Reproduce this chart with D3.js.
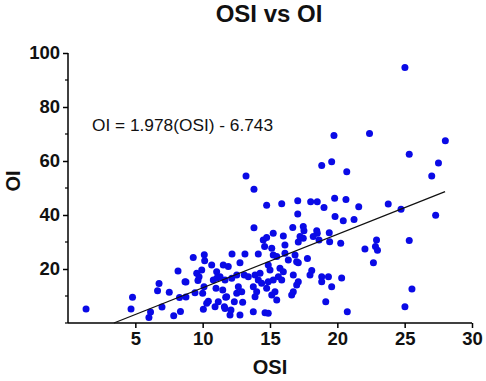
<!DOCTYPE html>
<html>
<head>
<meta charset="utf-8">
<script src="https://cdn.jsdelivr.net/npm/d3@7"></script>
<style>
  html, body { margin: 0; padding: 0; background: #fff; }
  svg { display: block; font-family: "Liberation Sans", Arial, sans-serif; }
</style>
</head>
<body>
<svg id="chart" width="486" height="381"></svg>
<script>
// ---- data ----
const osi = [
  1.34, 4.68, 4.79, 6.13, 6.01, 6.65, 6.76, 6.98, 7.52, 7.85, 8.17, 8.28, 8.35, 8.76, 8.76,
  9.30, 9.43, 9.56, 9.73, 9.65, 9.93, 10.12, 10.05, 10.10, 10.00, 10.15, 10.30, 10.42, 10.67, 10.79,
  10.99, 10.92, 11.04, 11.29, 11.53, 11.61, 11.49, 11.71, 11.90, 12.03, 12.18, 12.10, 12.16, 12.35, 12.53,
  12.77, 12.77, 12.97, 13.14, 13.09, 8.69, 11.06, 11.66, 11.78, 12.53, 11.16, 11.66,
  14.13, 14.50, 14.60, 15.13, 15.24, 15.50, 16.11, 16.11, 16.86, 16.98, 14.87, 15.00, 15.74, 15.99,
  13.39, 13.89, 14.26, 14.13, 14.38, 14.87, 15.62, 15.87, 13.76, 14.01, 14.75, 15.37, 15.13, 16.73,
  16.61, 12.65, 12.90, 13.89, 15.50, 13.76, 14.63, 14.87, 16.36, 17.10, 16.73, 17.10, 16.98, 15.24,
  13.22, 13.81, 14.75, 15.87, 17.06, 17.06, 13.81, 14.75, 15.24, 15.99, 16.69, 17.10, 17.23, 17.47,
  17.52, 18.47, 18.51, 18.21, 18.64, 19.40, 19.43, 20.25, 18.02, 18.51, 19.01, 19.80, 20.64, 21.59,
  19.83, 20.44, 21.24, 23.78, 24.73, 27.30, 18.84, 19.58, 20.70, 19.75, 22.39, 28.02, 25.34, 27.51,
  27.01, 25.02, 17.47,
  22.05, 22.91, 22.83, 22.98, 22.68, 25.34, 17.78, 18.10, 17.97, 18.84, 19.34, 20.32, 18.84, 19.58,
  25.54, 19.14, 25.02, 20.74
];
const oi = [
  5.2, 5.2, 9.5, 4.1, 2.0, 11.9, 14.6, 5.9, 11.4, 2.7, 19.3, 9.4, 4.3, 15.2, 9.6,
  24.3, 11.2, 18.4, 17.1, 15.7, 19.6, 25.3, 5.1, 13.4, 11.0, 23.1, 7.3, 8.1, 21.5, 15.9,
  12.9, 6.0, 19.0, 17.1, 21.5, 6.0, 12.2, 9.5, 20.9, 3.0, 25.6, 4.8, 16.6, 7.9, 17.8,
  22.3, 3.0, 7.7, 25.6, 17.8, 15.3, 16.7, 15.9, 9.7, 11.0, 7.9, 5.4,
  25.6, 30.7, 28.3, 27.7, 25.2, 24.6, 25.8, 28.9, 25.2, 22.7, 21.5, 19.6, 20.3, 19.0,
  17.1, 17.8, 18.4, 15.9, 14.7, 15.3, 17.1, 15.9, 13.4, 11.6, 12.9, 11.6, 10.4, 11.6,
  10.4, 13.4, 11.6, 9.7, 8.5, 4.2, 3.8, 3.6, 23.3, 22.3, 17.8, 15.3, 14.1, 15.9,
  54.4, 49.5, 43.6, 44.2, 45.3, 40.4, 35.3, 31.7, 33.2, 32.2, 35.4, 30.0, 32.0, 35.7,
  34.2, 34.2, 33.2, 32.0, 30.7, 33.4, 30.1, 29.5, 44.9, 44.9, 42.8, 46.2, 45.7, 43.1,
  39.4, 37.9, 38.3, 44.1, 42.1, 39.9, 58.3, 59.7, 56.0, 69.4, 70.2, 67.5, 62.5, 59.3,
  54.4, 94.6, 31.4,
  27.4, 30.7, 28.3, 26.9, 22.3, 30.6, 23.9, 19.4, 17.8, 17.1, 17.1, 16.7, 15.3, 13.4,
  12.6, 7.9, 6.0, 4.2
];
const xTicks = [5, 10, 15, 20, 25, 30];
const yTicks = [20, 40, 60, 80, 100];
const yMinorTicks = [0, 10, 30, 50, 70, 90];
const fitSlope = 1.978;
const fitIntercept = -6.743;
const fitRange = [3.41, 28.0];
const titleText = "OSI vs OI";
const xTitle = "OSI";
const yTitle = "OI";
const equationText = "OI = 1.978(OSI) - 6.743";

// ---- drawing ----
const svg = d3.select("#chart");
const mLeft = 68, mRight = 472, mTop = 53, mBottom = 323;
const x = d3.scaleLinear().domain([0, 30]).range([mLeft, mRight]);
const y = d3.scaleLinear().domain([0, 100]).range([mBottom, mTop]);

// title
svg.append("text").attr("x", 269).attr("y", 22).attr("text-anchor", "middle")
  .attr("font-size", 24).attr("font-weight", "bold").attr("fill", "#111").text(titleText);

// x axis
const xAxis = d3.axisBottom(x).tickValues(xTicks).tickSize(5).tickPadding(4).tickSizeOuter(0);
const gx = svg.append("g").attr("transform", `translate(0,${mBottom})`).call(xAxis);
gx.select(".domain").attr("stroke", "#000").attr("stroke-width", 1.5)
  .attr("d", `M${mLeft},0H${mRight}`);
gx.selectAll(".tick line").attr("stroke", "#000").attr("stroke-width", 1.5);
gx.selectAll(".tick text").attr("font-size", 18.5).attr("font-weight", "bold")
  .attr("fill", "#111").attr("font-family", "Liberation Sans, Arial, sans-serif");

// y axis
const yAxis = d3.axisLeft(y).tickValues(yTicks).tickSize(5).tickPadding(3).tickSizeOuter(0);
const gy = svg.append("g").attr("transform", `translate(${mLeft},0)`).call(yAxis);
gy.select(".domain").attr("stroke", "#000").attr("stroke-width", 1.5)
  .attr("d", `M0,${mBottom}V${mTop}`);
gy.selectAll(".tick line").attr("stroke", "#000").attr("stroke-width", 1.5);
gy.selectAll(".tick text").attr("font-size", 18.5).attr("font-weight", "bold")
  .attr("fill", "#111").attr("font-family", "Liberation Sans, Arial, sans-serif");
gy.selectAll(".minor").data(yMinorTicks).enter().append("line")
  .attr("class", "minor")
  .attr("x1", -3).attr("x2", 0)
  .attr("y1", d => y(d)).attr("y2", d => y(d))
  .attr("stroke", "#000").attr("stroke-width", 1.2);

// axis titles
svg.append("text").attr("x", 270).attr("y", 374).attr("text-anchor", "middle")
  .attr("font-size", 20).attr("font-weight", "bold").attr("fill", "#111").text(xTitle);
svg.append("text").attr("transform", "translate(20,181) rotate(-90)").attr("text-anchor", "middle")
  .attr("font-size", 20).attr("font-weight", "bold").attr("fill", "#111").text(yTitle);

// points
const pts = osi.map((v, i) => ({ x: v, y: oi[i] }));
svg.append("g").selectAll("circle").data(pts).enter().append("circle")
  .attr("cx", d => x(d.x)).attr("cy", d => y(d.y)).attr("r", 3.5)
  .attr("fill", "#0a0ae6");

// fit line
const line = d3.line().x(d => x(d)).y(d => y(fitSlope * d + fitIntercept));
svg.append("path").datum(fitRange).attr("d", line)
  .attr("stroke", "#111").attr("stroke-width", 1.3).attr("fill", "none");

// equation
svg.append("text").attr("x", 92).attr("y", 131).attr("font-size", 17.3)
  .attr("fill", "#111").text(equationText);
</script>
</body>
</html>
